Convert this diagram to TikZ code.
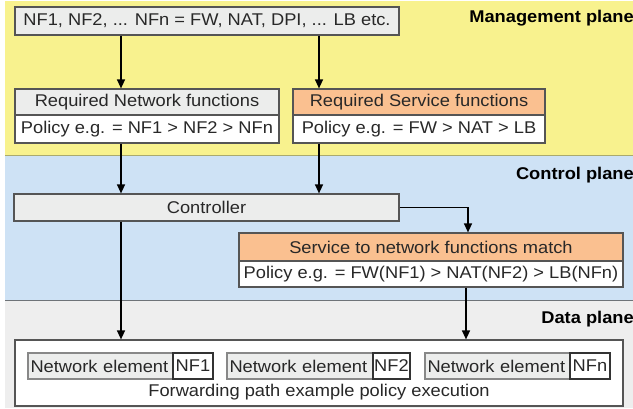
\documentclass[tikz,border=0pt]{standalone}
\usepackage{fontspec}
\setmainfont{Liberation Sans}[FakeStretch=1.075]
\usetikzlibrary{arrows.meta}
\definecolor{mgmt}{RGB}{248,242,142}
\definecolor{ctrlc}{RGB}{206,226,245}
\definecolor{datac}{RGB}{238,238,238}
\definecolor{boxgray}{RGB}{236,237,236}
\definecolor{orng}{RGB}{250,192,144}
\definecolor{edge}{RGB}{85,85,85}
\definecolor{txt}{RGB}{40,40,40}
\tikzset{
  box/.style={draw=edge, line width=1.2pt, inner sep=0pt, text=txt,
    font=\fontsize{17}{19}\selectfont},
  graybox/.style={box, fill=boxgray},
  whitebox/.style={box, fill=white},
  orangebox/.style={box, fill=orng},
  plane/.style={anchor=east, inner sep=0pt, font=\fontsize{17}{19}\selectfont\bfseries},
  arr/.style={draw=black, line width=1.3pt, -{Triangle[length=9pt,width=8pt]}},
}
\begin{document}
\begin{tikzpicture}[x=1pt,y=-1pt]
\useasboundingbox (0,0) rectangle (633,408);
% plane bands
\fill[white] (0,0) rectangle (633,408);
\fill[mgmt] (5,1) rectangle (633,155);
\fill[ctrlc] (5,155) rectangle (633,300);
\fill[datac] (5,300) rectangle (633,408);
\draw[line width=1pt, color={rgb,255:red,170;green,170;blue,110}] (5,155) -- (633,155);
\draw[line width=1pt, color={rgb,255:red,110;green,115;blue,120}] (5,300) -- (633,300);
\node[plane] (mp) at (634,18) {Management plane};
\node[plane] (cp) at (634,175) {Control plane};
\node[plane] (dp) at (634,319) {Data plane};

% management plane
\node[graybox, minimum width=384pt, minimum height=28pt] (nfs) at (207,21)
  {NF1, NF2, ... NFn = FW, NAT, DPI, ... LB etc.};
\node[graybox, minimum width=264pt, minimum height=26pt] (rnf) at (147,102)
  {Required Network functions};
\node[whitebox, minimum width=264pt, minimum height=28pt] (rnfp) at (147,129)
  {Policy e.g. = NF1 > NF2 > NFn};
\node[orangebox, minimum width=252pt, minimum height=26pt] (rsf) at (419,102)
  {Required Service functions};
\node[whitebox, minimum width=252pt, minimum height=28pt] (rsfp) at (419,129)
  {Policy e.g. = FW > NAT > LB};

% control plane
\node[graybox, minimum width=385pt, minimum height=27pt] (ctl) at (206.5,207.5)
  {Controller};
\node[orangebox, minimum width=384pt, minimum height=28pt] (match) at (431,247)
  {Service to network functions match};
\node[whitebox, minimum width=384pt, minimum height=26pt] (matchp) at (431,274)
  {Policy e.g. = FW(NF1) > NAT(NF2) > LB(NFn)};

% data plane
\node[whitebox, minimum width=608pt, minimum height=66pt] (data) at (319,373) {};
\node[box, draw=edge!70, fill=boxgray, minimum width=185pt, minimum height=26pt,
  text width=185pt, align=left] (ne1) at (120.5,366) {\hspace{2.5pt}Network element};
\node[whitebox, draw=black!80, minimum width=40pt, minimum height=26pt] (nf1) at (193,366) {NF1};
\node[box, draw=edge!70, fill=boxgray, minimum width=183pt, minimum height=26pt,
  text width=183pt, align=left] (ne2) at (318.5,366) {\hspace{2.5pt}Network element};
\node[whitebox, draw=black!80, minimum width=37pt, minimum height=26pt] (nf2) at (391.5,366) {NF2};
\node[box, draw=edge!70, fill=boxgray, minimum width=185pt, minimum height=26pt,
  text width=185pt, align=left] (ne3) at (517.5,366) {\hspace{2.5pt}Network element};
\node[whitebox, draw=black!80, minimum width=40pt, minimum height=26pt] (nfn) at (590,366) {NFn};
\node[inner sep=0pt, text=txt, font=\fontsize{17}{19}\selectfont] (fwd) at (319,392)
  {Forwarding path example policy execution};

% connectors
\coordinate (xl) at (121,0);
\coordinate (xr) at (319,0);
\coordinate (xm) at (468,0);
\coordinate (xd) at (466,0);
\draw[arr] (nfs.south -| xl) -- (rnf.north -| xl);
\draw[arr] (nfs.south -| xr) -- (rsf.north -| xr);
\draw[arr] (rnfp.south -| xl) -- (ctl.north -| xl);
\draw[arr] (rsfp.south -| xr) -- (ctl.north -| xr);
\draw[arr] (ctl.east) -| (match.north -| xm);
\draw[arr] (ctl.south -| xl) -- (data.north -| xl);
\draw[arr] (matchp.south -| xd) -- (data.north -| xd);
\end{tikzpicture}
\end{document}
